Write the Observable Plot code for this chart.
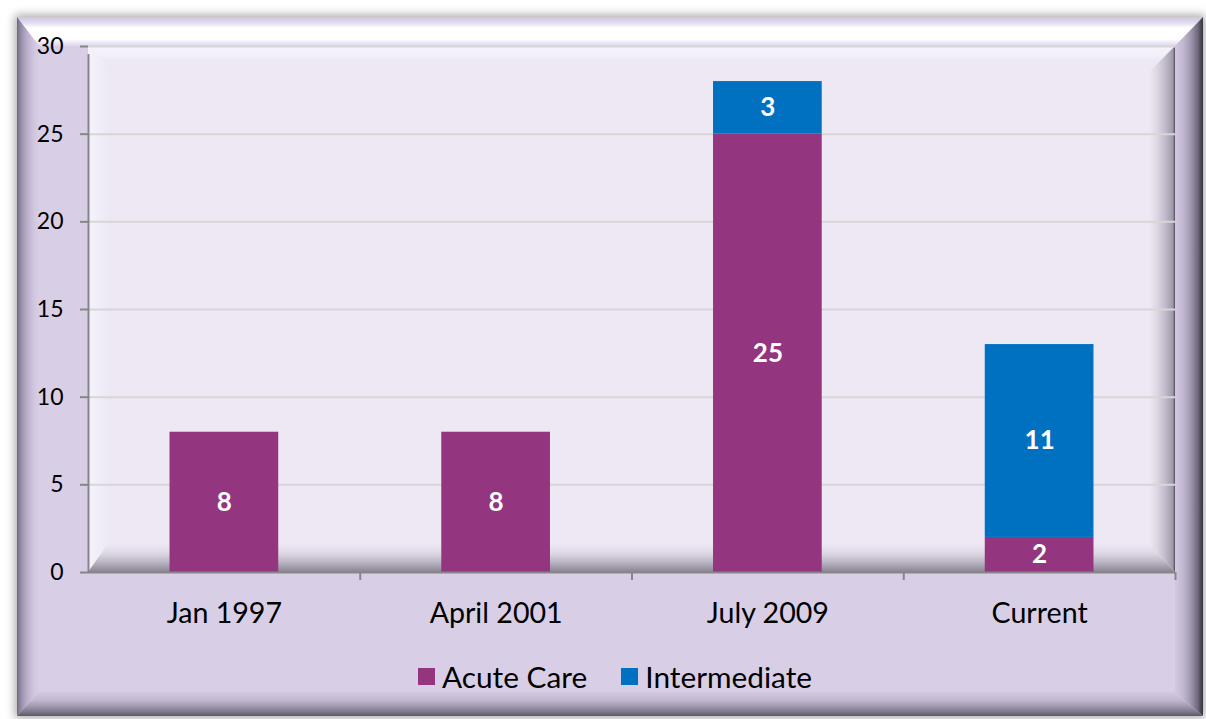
<!DOCTYPE html>
<html>
<head>
<meta charset="utf-8">
<script src="https://cdn.jsdelivr.net/npm/d3@7"></script>
<script src="https://cdn.jsdelivr.net/npm/@observablehq/plot@0.6"></script>
<style>
  html, body { margin: 0; padding: 0; background: #ffffff; }
  #wrap { position: relative; width: 1206px; height: 719px; overflow: hidden; background: #ffffff; }
  .abs { position: absolute; }
  #frame { left: 17px; top: 17px; width: 1186px; height: 699px; background: #d8cfe6;
           box-shadow: 0 0 9px 2px rgba(0,0,0,0.35); }
  #fTop { left: 17px; top: 17px; width: 1186px; height: 29px;
          clip-path: polygon(0 0, 100% 0, calc(100% - 28px) 100%, 22px 100%);
          background: linear-gradient(to bottom, #cfc6df 0px, #e4ddf0 6px, #ffffff 11px, #ffffff 22px, #e6dff1 27px, #ded6ea 29px); }
  #fLeft { left: 17px; top: 17px; width: 22px; height: 699px;
           clip-path: polygon(0 0, 100% 29px, 100% calc(100% - 24px), 0 100%);
           background: linear-gradient(to right, #6f6a7c 0px, #8e86a0 3px, #b5abc6 9px, #d0c7df 17px, #d8cfe6 22px); }
  #fRight { left: 1175px; top: 17px; width: 28px; height: 699px;
            clip-path: polygon(0 29px, 100% 0, 100% 100%, 0 calc(100% - 24px));
            background: linear-gradient(to right, #d3c9e1 0px, #c3b8d3 8px, #9e95ad 16px, #6e687a 23px, #3d3a45 27px); }
  #fBottom { left: 17px; top: 692px; width: 1186px; height: 24px;
             clip-path: polygon(22px 0, calc(100% - 28px) 0, 100% 100%, 0 100%);
             background: linear-gradient(to bottom, #d3cae1 0px, #c2b8d1 8px, #a49bb2 14px, #7d7789 20px, #5c5866 24px); }
  #plotbg { left: 88px; top: 46px; width: 1087px; height: 526px; background: #ede8f4; }
  #pTop { left: 88px; top: 46px; width: 1087px; height: 14px;
          clip-path: polygon(0 0, 100% 0, calc(100% - 14px) 100%, 14px 100%);
          background: linear-gradient(to bottom, #f7f3fc, #f3eff9 10px, #ede8f4); }
  #pLeft { left: 88px; top: 46px; width: 20px; height: 526px;
           clip-path: polygon(0 0, 100% 20px, 100% calc(100% - 28px), 0 100%);
           background: linear-gradient(to right, #f6f3fb, #f2eef8 10px, #ede8f4); }
  #pRight { left: 1149px; top: 46px; width: 26px; height: 526px;
            clip-path: polygon(0 26px, 100% 0, 100% 100%, 0 calc(100% - 28px));
            background: linear-gradient(to right, #ede8f4, #ddd7e4 8px, #c2bbcb 16px, #9f98a8 24px, #4a4654 26px); }
  #pBottom { left: 88px; top: 544px; width: 1087px; height: 28px;
             clip-path: polygon(20px 0, calc(100% - 26px) 0, 100% 100%, 0 100%);
             background: linear-gradient(to bottom, #ede8f4, #dcd6e2 10px, #bcb5c4 18px, #99929f 25px, #8a8490 28px); }
  #chart { left: 0; top: 0; }
  #legend { left: 418px; top: 659px; }
  .leg-swatch > svg { margin-right: 7px !important; }
  .leg-swatch { margin-right: 34px !important; }
</style>
</head>
<body>
<div id="wrap">
  <div id="frame" class="abs"></div>
  <div id="fTop" class="abs"></div>
  <div id="fLeft" class="abs"></div>
  <div id="fRight" class="abs"></div>
  <div id="fBottom" class="abs"></div>
  <div id="plotbg" class="abs"></div>
  <div id="pTop" class="abs"></div>
  <div id="pLeft" class="abs"></div>
  <div id="pRight" class="abs"></div>
  <div id="pBottom" class="abs"></div>
  <div id="chart" class="abs"></div>
  <div id="legend" class="abs"></div>
</div>
<script>
const categories = ["Jan 1997", "April 2001", "July 2009", "Current"];
const series = ["Acute Care", "Intermediate"];
const acuteCare = [8, 8, 25, 2];
const intermediate = [0, 0, 3, 11];
const seriesColors = ["#93367f", "#0070c0"];
const yTicks = [0, 5, 10, 15, 20, 25, 30];

const data = categories.flatMap((c, i) => [
  {cat: c, series: series[0], value: acuteCare[i]},
  {cat: c, series: series[1], value: intermediate[i]}
]).filter(d => d.value > 0);

const W = 1206, H = 640, mL = 88, mR = 31, mT = 46, mB = 68;
const step = (W - mL - mR) / categories.length;
const axisColor = "#868686";

const chart = Plot.plot({
  width: W, height: H,
  marginLeft: mL, marginRight: mR, marginTop: mT, marginBottom: mB,
  style: {background: "transparent", fontFamily: "Lato", color: "#000", overflow: "visible"},
  x: {domain: categories, paddingInner: 0.6, paddingOuter: 0.3, round: false, label: null},
  y: {domain: [0, 30], ticks: yTicks, label: null},
  color: {domain: series, range: seriesColors},
  marks: [
    Plot.gridY(yTicks.filter(t => t > 0), {stroke: "#d6d6d6", strokeOpacity: 1, strokeWidth: 2}),
    Plot.barY(data, {x: "cat", y: "value", fill: "series"}),
    Plot.text(data, Plot.stackY({x: "cat", y: "value", z: "series", text: d => String(d.value),
      fill: "white", fontWeight: "bold", fontSize: 26})),
    Plot.ruleY([0], {stroke: axisColor, strokeWidth: 2}),
    Plot.ruleX([categories[0]], {x: d => d, dx: -step / 2, y1: 0, y2: 30, insetBottom: -8, stroke: axisColor, strokeWidth: 2}),
    Plot.ruleX(categories, {x: d => d, dx: step / 2, y1: 0, y2: 0, insetBottom: -8, stroke: axisColor, strokeWidth: 2}),
    Plot.axisY({ticks: yTicks, tickSize: 8, tickPadding: 17, stroke: axisColor, strokeWidth: 2, fontSize: 23}),
    Plot.axisX({tickSize: 0, tickPadding: 30, fontSize: 28.6})
  ]
});
document.getElementById("chart").appendChild(chart);

const legend = Plot.legend({
  color: {domain: series, range: seriesColors},
  legend: "swatches",
  className: "leg",
  swatchSize: 17,
  style: {fontFamily: "Lato", fontSize: "29.8px", color: "#000"}
});
document.getElementById("legend").appendChild(legend);
</script>
</body>
</html>
